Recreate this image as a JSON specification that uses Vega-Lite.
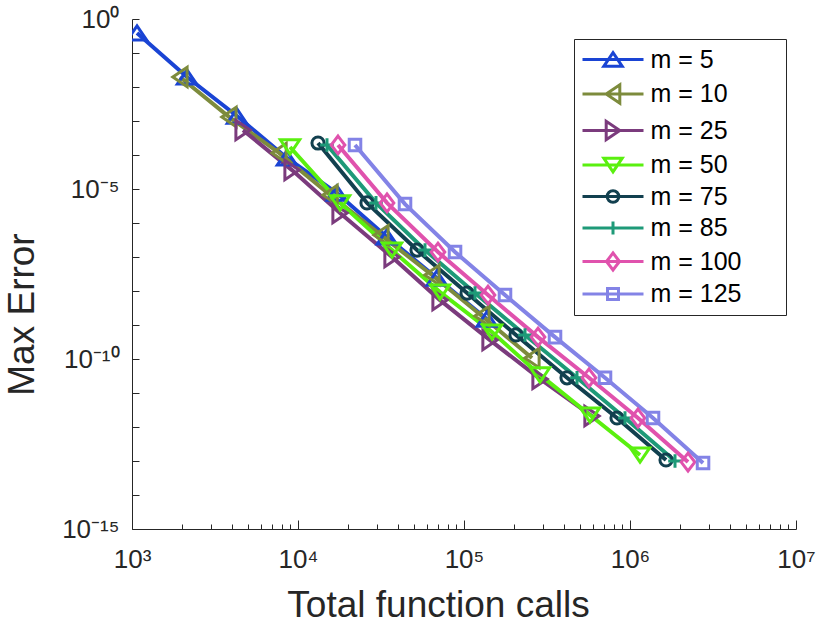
{
  "$schema": "https://vega.github.io/schema/vega-lite/v6.json",
  "width": 664,
  "height": 510,
  "autosize": {"type": "none"},
  "padding": {"left": 132, "top": 19, "right": 23, "bottom": 96},
  "background": "white",
  "config": {
    "view": {"stroke": null},
    "font": "Liberation Sans",
    "axis": {"grid": false, "domainColor": "#262626", "tickColor": "#262626", "labelColor": "#262626", "titleColor": "#262626", "labelFont": "Liberation Sans", "titleFont": "Liberation Sans", "labelFontSize": 26, "titleFontSize": 37, "titleFontWeight": "normal", "domainWidth": 1, "tickWidth": 1}
  },
  "data": {"values": [
    {"s": "m = 5", "n": 1072, "err": 0.388},
    {"s": "m = 5", "n": 2144, "err": 0.0197},
    {"s": "m = 5", "n": 4288, "err": 0.0014},
    {"s": "m = 5", "n": 8576, "err": 8.2e-5},
    {"s": "m = 5", "n": 17150, "err": 7.6e-6},
    {"s": "m = 5", "n": 34300, "err": 3.9e-7},
    {"s": "m = 5", "n": 68600, "err": 2.4e-8},
    {"s": "m = 5", "n": 137200, "err": 1.5e-9},
    {"s": "m = 10", "n": 1945, "err": 0.0197},
    {"s": "m = 10", "n": 3838, "err": 0.00132},
    {"s": "m = 10", "n": 7690, "err": 1.15e-4},
    {"s": "m = 10", "n": 15600, "err": 6.7e-6},
    {"s": "m = 10", "n": 31620, "err": 4.4e-7},
    {"s": "m = 10", "n": 64100, "err": 2.96e-8},
    {"s": "m = 10", "n": 128300, "err": 1.84e-9},
    {"s": "m = 10", "n": 256800, "err": 1.07e-10},
    {"s": "m = 25", "n": 4665, "err": 5.4e-4},
    {"s": "m = 25", "n": 9203, "err": 3.6e-5},
    {"s": "m = 25", "n": 17910, "err": 1.97e-6},
    {"s": "m = 25", "n": 36830, "err": 1.0e-7},
    {"s": "m = 25", "n": 71700, "err": 5.4e-9},
    {"s": "m = 25", "n": 143400, "err": 3.6e-10},
    {"s": "m = 25", "n": 287000, "err": 2.6e-11},
    {"s": "m = 25", "n": 590200, "err": 2.1e-12},
    {"s": "m = 50", "n": 8950, "err": 1.72e-4},
    {"s": "m = 50", "n": 17910, "err": 3.9e-6},
    {"s": "m = 50", "n": 36830, "err": 1.6e-7},
    {"s": "m = 50", "n": 71700, "err": 9.3e-9},
    {"s": "m = 50", "n": 147500, "err": 6.2e-10},
    {"s": "m = 50", "n": 287000, "err": 3.4e-11},
    {"s": "m = 50", "n": 574100, "err": 2.25e-12},
    {"s": "m = 50", "n": 1149000, "err": 1.5e-13},
    {"s": "m = 75", "n": 13200, "err": 2.25e-4},
    {"s": "m = 75", "n": 26040, "err": 3.9e-6},
    {"s": "m = 75", "n": 52100, "err": 1.6e-7},
    {"s": "m = 75", "n": 104300, "err": 8.7e-9},
    {"s": "m = 75", "n": 205700, "err": 5.1e-10},
    {"s": "m = 75", "n": 417400, "err": 2.8e-11},
    {"s": "m = 75", "n": 835100, "err": 1.84e-12},
    {"s": "m = 75", "n": 1648000, "err": 1.07e-13},
    {"s": "m = 85", "n": 14950, "err": 1.97e-4},
    {"s": "m = 85", "n": 29500, "err": 3.9e-6},
    {"s": "m = 85", "n": 58230, "err": 1.6e-7},
    {"s": "m = 85", "n": 116500, "err": 8.7e-9},
    {"s": "m = 85", "n": 233100, "err": 5.1e-10},
    {"s": "m = 85", "n": 479400, "err": 2.8e-11},
    {"s": "m = 85", "n": 933000, "err": 1.84e-12},
    {"s": "m = 85", "n": 1867000, "err": 1.0e-13},
    {"s": "m = 100", "n": 17420, "err": 1.97e-4},
    {"s": "m = 100", "n": 34370, "err": 3.9e-6},
    {"s": "m = 100", "n": 69700, "err": 1.4e-7},
    {"s": "m = 100", "n": 139500, "err": 7.6e-9},
    {"s": "m = 100", "n": 279200, "err": 4.4e-10},
    {"s": "m = 100", "n": 566200, "err": 2.8e-11},
    {"s": "m = 100", "n": 1117000, "err": 1.84e-12},
    {"s": "m = 100", "n": 2236000, "err": 9.3e-14},
    {"s": "m = 125", "n": 22050, "err": 1.97e-4},
    {"s": "m = 125", "n": 44120, "err": 3.6e-6},
    {"s": "m = 125", "n": 88300, "err": 1.4e-7},
    {"s": "m = 125", "n": 176600, "err": 7.6e-9},
    {"s": "m = 125", "n": 353400, "err": 4.4e-10},
    {"s": "m = 125", "n": 707000, "err": 2.8e-11},
    {"s": "m = 125", "n": 1376000, "err": 1.84e-12},
    {"s": "m = 125", "n": 2754000, "err": 8.7e-14}
  ]},
  "encoding": {
    "x": {"field": "n", "type": "quantitative",
      "scale": {"type": "log", "domain": [1000, 10000000], "nice": false},
      "axis": {
        "title": "Total function calls",
        "titleX": 306, "titleY": 87, "titleBaseline": "alphabetic", "titleAnchor": "middle",
        "values": [1000, 2000, 3000, 4000, 5000, 6000, 7000, 8000, 9000, 10000, 20000, 30000, 40000, 50000, 60000, 70000, 80000, 90000, 100000, 200000, 300000, 400000, 500000, 600000, 700000, 800000, 900000, 1000000, 2000000, 3000000, 4000000, 5000000, 6000000, 7000000, 8000000, 9000000, 10000000],
        "labelExpr": "datum.value == 1000 ? '10³' : datum.value == 10000 ? '10⁴' : datum.value == 100000 ? '10⁵' : datum.value == 1000000 ? '10⁶' : datum.value == 10000000 ? '10⁷' : ''",
        "tickSize": -5,
        "labelPadding": 22,
        "labelFlush": false,
        "labelOverlap": false,
        "encoding": {"ticks": {"y2": {"value": {"expr": "abs(log(datum.value)/LN10 - round(log(datum.value)/LN10)) < 0.01 ? -9 : -5"}}}}
      }
    },
    "y": {"field": "err", "type": "quantitative",
      "scale": {"type": "log", "domain": [1e-15, 1], "nice": false},
      "axis": {
        "title": "Max Error",
        "titleX": -99, "titleY": 295, "titleBaseline": "alphabetic", "titleAnchor": "middle",
        "values": [1e-15, 1e-14, 1e-13, 1e-12, 1e-11, 1e-10, 1e-9, 1e-8, 1e-7, 1e-6, 1e-5, 1e-4, 1e-3, 1e-2, 1e-1, 1],
        "labelExpr": "round(log(datum.value)/LN10) == 0 ? '10⁰' : round(log(datum.value)/LN10) == -5 ? '10⁻⁵' : round(log(datum.value)/LN10) == -10 ? '10⁻¹⁰' : round(log(datum.value)/LN10) == -15 ? '10⁻¹⁵' : ''",
        "tickSize": -7,
        "labelPadding": 20,
        "labelFlush": false,
        "labelOverlap": false
      }
    },
    "color": {"field": "s", "type": "nominal",
      "scale": {
        "domain": ["m = 5", "m = 10", "m = 25", "m = 50", "m = 75", "m = 85", "m = 100", "m = 125"],
        "range": ["#1a44d4", "#7d8b3c", "#7b3b7d", "#5af00f", "#12404f", "#1e9a78", "#e052ad", "#8383e6"]
      },
      "legend": {
        "title": null,
        "orient": "none",
        "legendX": 442,
        "legendY": 20,
        "padding": 8,
        "rowPadding": 5.5,
        "strokeColor": "#262626",
        "fillColor": "white",
        "labelFont": "Liberation Sans",
        "labelFontSize": 25,
        "labelColor": "#000000",
        "labelOffset": 25,
        "labelExpr": "datum.label + '\u2800\u2800'",
        "symbolSize": 400,
        "symbolStrokeWidth": 3,
        "symbolOffset": 18.5,
        "symbolType": {"expr": "datum.value == 'm = 5' ? 'M-3.05,0H3.05M0,-0.68L0.92,0.68L-0.92,0.68Z' : datum.value == 'm = 10' ? 'M-3.05,0H3.05M-0.68,0L0.68,-0.92L0.68,0.92Z' : datum.value == 'm = 25' ? 'M-3.05,0H3.05M0.68,0L-0.68,-0.92L-0.68,0.92Z' : datum.value == 'm = 50' ? 'M-3.05,0H3.05M0,0.68L0.92,-0.68L-0.92,-0.68Z' : datum.value == 'm = 75' ? 'M-3.05,0H3.05M0.58,0A0.58,0.58,0,1,1,-0.58,0A0.58,0.58,0,1,1,0.58,0' : datum.value == 'm = 85' ? 'M-3.05,0H3.05M0,-0.65V0.65' : datum.value == 'm = 100' ? 'M-3.05,0H3.05M0,-0.85L0.65,0L0,0.85L-0.65,0Z' : 'M-3.05,0H3.05M-0.55,-0.55H0.55V0.55H-0.55Z'"}
      }
    }
  },
  "layer": [
    {"mark": {"type": "line", "strokeWidth": 4, "clip": true}},
    {"mark": {"type": "point", "filled": false, "strokeWidth": 3, "size": 440, "opacity": 1, "clip": true,
      "shape": {"expr": "datum.s == 'm = 5' ? 'M0,-0.68L0.92,0.68L-0.92,0.68Z' : datum.s == 'm = 10' ? 'M-0.68,0L0.68,-0.92L0.68,0.92Z' : datum.s == 'm = 25' ? 'M0.68,0L-0.68,-0.92L-0.68,0.92Z' : datum.s == 'm = 50' ? 'M0,0.68L0.92,-0.68L-0.92,-0.68Z' : datum.s == 'm = 75' ? 'M0.58,0A0.58,0.58,0,1,1,-0.58,0A0.58,0.58,0,1,1,0.58,0' : datum.s == 'm = 85' ? 'M-0.65,0H0.65M0,-0.65V0.65' : datum.s == 'm = 100' ? 'M0,-0.85L0.65,0L0,0.85L-0.65,0Z' : datum.s == 'm = 125' ? 'M-0.55,-0.55H0.55V0.55H-0.55Z' : datum.value == 'm = 5' ? 'M-3.05,0H3.05M0,-0.68L0.92,0.68L-0.92,0.68Z' : datum.value == 'm = 10' ? 'M-3.05,0H3.05M-0.68,0L0.68,-0.92L0.68,0.92Z' : datum.value == 'm = 25' ? 'M-3.05,0H3.05M0.68,0L-0.68,-0.92L-0.68,0.92Z' : datum.value == 'm = 50' ? 'M-3.05,0H3.05M0,0.68L0.92,-0.68L-0.92,-0.68Z' : datum.value == 'm = 75' ? 'M-3.05,0H3.05M0.58,0A0.58,0.58,0,1,1,-0.58,0A0.58,0.58,0,1,1,0.58,0' : datum.value == 'm = 85' ? 'M-3.05,0H3.05M0,-0.65V0.65' : datum.value == 'm = 100' ? 'M-3.05,0H3.05M0,-0.85L0.65,0L0,0.85L-0.65,0Z' : 'M-3.05,0H3.05M-0.55,-0.55H0.55V0.55H-0.55Z'"}
    }}
  ]
}
